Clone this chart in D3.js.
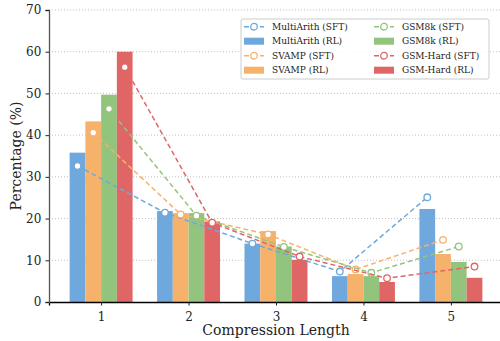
<!DOCTYPE html>
<html>
<head>
<meta charset="utf-8">
<script src="https://cdn.jsdelivr.net/npm/d3@7"></script>
<style>
  body { margin: 0; background: #fff; }
  svg { font-family: "DejaVu Serif", serif; }
</style>
</head>
<body>
<svg id="chart" width="500" height="341"></svg>
<script>
// data
const lengths = [1, 2, 3, 4, 5];
const datasets = ['MultiArith', 'SVAMP', 'GSM8k', 'GSM-Hard'];
const colors = ['#6fa8dc', '#f6b26b', '#93c47d', '#e06666'];

const multiArithRL = [35.8, 21.8, 14.0, 6.2, 22.3];
const svampRL = [43.3, 21.3, 17.0, 6.7, 11.5];
const gsm8kRL = [49.7, 21.3, 13.3, 6.2, 9.6];
const gsmHardRL = [60.0, 19.3, 10.1, 4.8, 5.8];

const multiArithSFT = [32.6, 21.4, 14.0, 7.3, 25.1];
const svampSFT = [40.6, 21.0, 16.2, 7.8, 14.9];
const gsm8kSFT = [46.3, 20.7, 13.2, 7.0, 13.3];
const gsmHardSFT = [56.3, 19.0, 10.9, 5.7, 8.5];

const yTicks = [0, 10, 20, 30, 40, 50, 60, 70];

const rl = [multiArithRL, svampRL, gsm8kRL, gsmHardRL];
const sft = [multiArithSFT, svampSFT, gsm8kSFT, gsmHardSFT];

const svg = d3.select('#chart');
const plotL = 49, plotR = 503, plotT = 10, plotB = 302;
const barW = 0.18;

const x = d3.scaleLinear().domain([0.404, 5.596]).range([plotL, plotR]);
const y = d3.scaleLinear().domain([0, 70]).range([plotB, plotT]);

// grid
svg.append('g').selectAll('line').data(yTicks.slice(1)).join('line')
  .attr('x1', plotL).attr('x2', plotR)
  .attr('y1', d => y(d)).attr('y2', d => y(d))
  .attr('stroke', '#b0b0b0').attr('stroke-width', 0.8)
  .attr('stroke-dasharray', '1,2');

// bars
datasets.forEach((name, i) => {
  const off = (i - 1.5) * barW;
  svg.append('g').selectAll('rect').data(lengths).join('rect')
    .attr('x', (d) => x(d + off - barW / 2))
    .attr('width', x(barW) - x(0))
    .attr('y', (d, j) => y(rl[i][j]))
    .attr('height', (d, j) => y(0) - y(rl[i][j]))
    .attr('fill', colors[i]);
});

// sft lines + markers
const line = d3.line();
datasets.forEach((name, i) => {
  const off = (i - 1.5) * barW;
  const pts = lengths.map((d, j) => [x(d + off), y(sft[i][j])]);
  svg.append('path').attr('d', line(pts))
    .attr('fill', 'none').attr('stroke', colors[i])
    .attr('stroke-width', 1.5).attr('stroke-dasharray', '5,3');
  svg.append('g').selectAll('circle').data(pts).join('circle')
    .attr('cx', d => d[0]).attr('cy', d => d[1]).attr('r', 3.3)
    .attr('fill', '#fff').attr('stroke', colors[i]).attr('stroke-width', 1.3);
});

// axes
const xAxis = svg.append('g').attr('transform', `translate(0,${plotB})`)
  .call(d3.axisBottom(x).tickValues(lengths).tickFormat(d3.format('d')).tickSizeOuter(0).tickSize(3.5));
const yAxis = svg.append('g').attr('transform', `translate(${plotL},0)`)
  .call(d3.axisLeft(y).tickValues(yTicks).tickSizeOuter(0).tickSize(3.5));
[xAxis, yAxis].forEach(a => {
  a.selectAll('text').attr('font-family', '"DejaVu Serif", serif').attr('font-size', 12).attr('fill', '#222');
  a.selectAll('line').attr('stroke', '#222');
});
xAxis.select('.domain').attr('stroke', '#000').attr('stroke-width', 1.3);
yAxis.select('.domain').attr('stroke', '#555').attr('stroke-width', 1.3);
xAxis.selectAll('text').attr('dy', '1.0em');
yAxis.selectAll('text').attr('dx', '-0.1em');

svg.append('text').attr('x', 276).attr('y', 335)
  .attr('text-anchor', 'middle').attr('font-size', 14).attr('fill', '#222')
  .text('Compression Length');
svg.append('text').attr('transform', `translate(21,${(plotT + plotB) / 2}) rotate(-90)`)
  .attr('text-anchor', 'middle').attr('font-size', 14).attr('fill', '#222')
  .text('Percentage (%)');

// legend
const lg = svg.append('g').attr('transform', 'translate(241,19)');
lg.append('rect').attr('width', 248).attr('height', 60).attr('rx', 2)
  .attr('fill', '#fff').attr('fill-opacity', 0.85).attr('stroke', '#ccc');
const items = [];
datasets.forEach((name, i) => {
  items.push({ label: `${name} (SFT)`, c: colors[i], kind: 'line' });
  items.push({ label: `${name} (RL)`, c: colors[i], kind: 'bar' });
});
items.forEach((it, k) => {
  const col = Math.floor(k / 4), row = k % 4;
  const g = lg.append('g').attr('transform', `translate(${3 + col * 130},${7.7 + row * 14.5})`);
  if (it.kind === 'line') {
    g.append('line').attr('x1', 0).attr('x2', 20).attr('stroke', it.c)
      .attr('stroke-width', 1.5).attr('stroke-dasharray', '5,3');
    g.append('circle').attr('cx', 10).attr('r', 3.3).attr('fill', '#fff')
      .attr('stroke', it.c).attr('stroke-width', 1.3);
  } else {
    g.append('rect').attr('x', 0).attr('y', -3.5).attr('width', 20).attr('height', 7).attr('fill', it.c);
  }
  g.append('text').attr('x', 28).attr('dy', '0.35em').attr('font-size', 9)
    .attr('fill', '#222').text(it.label);
});
</script>
</body>
</html>
